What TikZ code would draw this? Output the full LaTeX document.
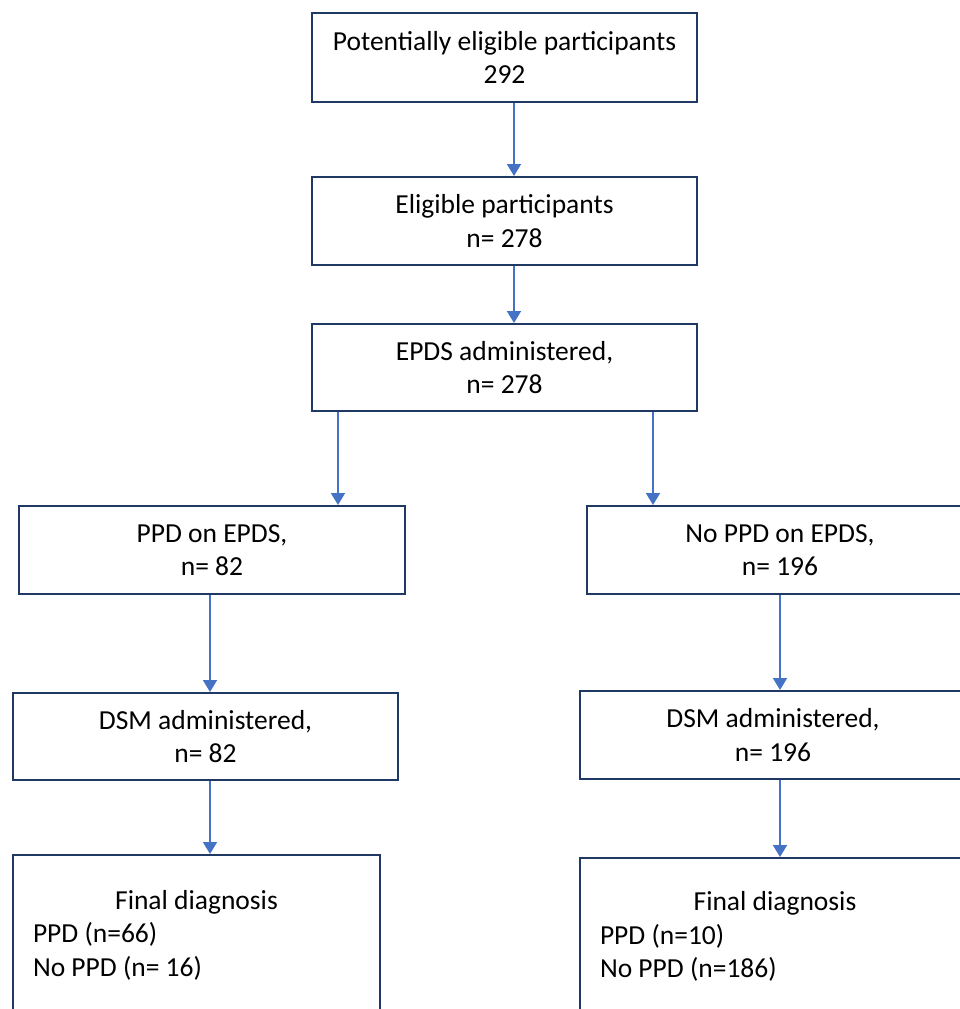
\documentclass[tikz,border=0pt]{standalone}
\usepackage{fontspec}
\setmainfont{Carlito}
\usetikzlibrary{arrows.meta,positioning}
\definecolor{boxline}{HTML}{203864}
\definecolor{arrowblue}{HTML}{4472C4}

\begin{document}
\begin{tikzpicture}[x=1pt,y=-1pt,
  flowbox/.style={draw=boxline,line width=2pt,rectangle,inner sep=0pt,align=center,font=\fontsize{27.5}{33.5}\selectfont},
  diagbox/.style={flowbox,align=flush left},
  flowarrow/.style={draw=arrowblue,line width=1.8pt,-{Triangle[length=12pt,width=14pt]}}]
\path[use as bounding box,clip] (0,0) rectangle (960,1009);
% top part
\node[flowbox,minimum width=385pt,minimum height=89pt] (potential) at (504.5,57.5) {Potentially eligible participants\\292};
\node[flowbox,minimum width=385pt,minimum height=88pt] (eligible) at (504.5,221) {Eligible participants\\n= 278};
\node[flowbox,minimum width=385pt,minimum height=87pt] (epds) at (504.5,367.5) {EPDS administered,\\n= 278};
% two branches
\node[flowbox,minimum width=386pt,minimum height=88pt] (ppdepds) at (212,550) {PPD on EPDS,\\n= 82};
\node[flowbox,minimum width=386pt,minimum height=88pt] (noppdepds) at (780,550) {No PPD on EPDS,\\n= 196};
\node[flowbox,minimum width=385pt,minimum height=87pt] (dsmleft) at (205.5,736.5) {DSM administered,\\n= 82};
\node[flowbox,minimum width=386pt,minimum height=88pt] (dsmright) at (773,735) {DSM administered,\\n= 196};
\node[diagbox,text width=327pt,minimum width=367pt,minimum height=160pt] (finalleft) at (196.5,935)
  {\makebox[327pt]{Final diagnosis}\\PPD (n=66)\\No PPD (n= 16)};
\node[diagbox,text width=350pt,minimum width=390pt,minimum height=157pt] (finalright) at (775,936.5)
  {\makebox[350pt]{Final diagnosis}\\PPD (n=10)\\No PPD (n=186)};
% arrows
\draw[flowarrow] ([xshift=9.5pt]potential.south) -- ([xshift=9.5pt]potential.south |- eligible.north);
\draw[flowarrow] ([xshift=9.5pt]eligible.south) -- ([xshift=9.5pt]eligible.south |- epds.north);
\draw[flowarrow] ([xshift=-166.5pt]epds.south) -- ([xshift=-166.5pt]epds.south |- ppdepds.north);
\draw[flowarrow] ([xshift=148.5pt]epds.south) -- ([xshift=148.5pt]epds.south |- noppdepds.north);
\draw[flowarrow] ([xshift=-2pt]ppdepds.south) -- ([xshift=-2pt]ppdepds.south |- dsmleft.north);
\draw[flowarrow] (noppdepds.south) -- (noppdepds.south |- dsmright.north);
\draw[flowarrow] ([xshift=4.5pt]dsmleft.south) -- ([xshift=4.5pt]dsmleft.south |- finalleft.north);
\draw[flowarrow] ([xshift=7pt]dsmright.south) -- ([xshift=7pt]dsmright.south |- finalright.north);
\end{tikzpicture}
\end{document}
